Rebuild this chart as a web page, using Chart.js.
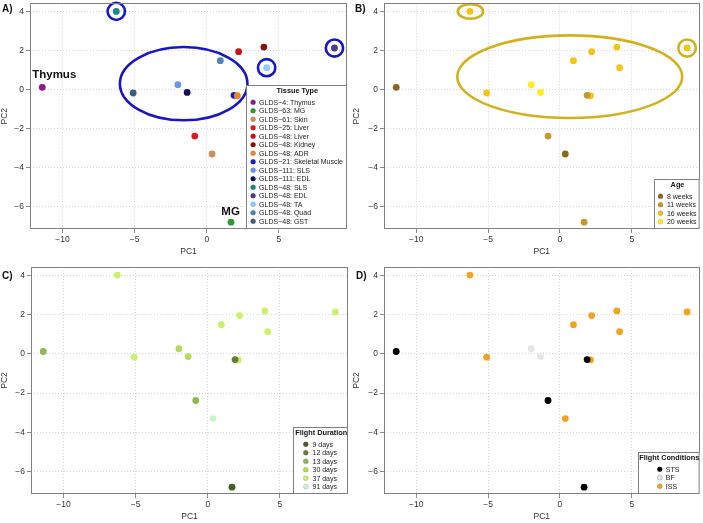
<!DOCTYPE html>
<html>
<head>
<meta charset="utf-8">
<script src="https://cdn.jsdelivr.net/npm/chart.js@4.4.0/dist/chart.umd.min.js"></script>
<style>
  html, body { margin: 0; padding: 0; background: #fff; }
  #wrap { position: relative; width: 703px; height: 523px; }
  .panel { position: absolute; }
</style>
</head>
<body>
<div id="wrap">
  <div class="panel" style="left:0;top:0;width:352px;height:262px"><canvas id="chartA"></canvas></div>
  <div class="panel" style="left:352px;top:0;width:351px;height:262px"><canvas id="chartB"></canvas></div>
  <div class="panel" style="left:0;top:262px;width:352px;height:261px"><canvas id="chartC"></canvas></div>
  <div class="panel" style="left:352px;top:262px;width:351px;height:261px"><canvas id="chartD"></canvas></div>
</div>
<script>
// PCA scores, one entry per tissue (same order as tissue legend)
const pc1 = [-11.4, 1.68, 0.37, -0.83, 2.21, 3.96, 2.12, 1.89, -2.0, -1.36, -6.27, 8.85, 4.15, 0.94, -5.1];
const pc2 = [0.12, -6.8, -3.3, -2.38, 1.95, 2.19, -0.31, -0.29, 0.26, -0.14, 4.02, 2.14, 1.13, 1.49, -0.17];

const tissueNames = ['GLDS\u22124: Thymus', 'GLDS\u221263: MG', 'GLDS\u221261: Skin', 'GLDS\u221225: Liver',
  'GLDS\u221248: Liver', 'GLDS\u221248: Kidney', 'GLDS\u221248: ADR', 'GLDS\u221221: Skeletal Muscle',
  'GLDS\u2212111: SLS', 'GLDS\u2212111: EDL', 'GLDS\u221248: SLS', 'GLDS\u221248: EDL',
  'GLDS\u221248: TA', 'GLDS\u221248: Quad', 'GLDS\u221248: GST'];
const tissueColors = ['#8e1a8c', '#2f9a30', '#cd915c', '#e4151c', '#c81018', '#8a0d0d', '#e88a2c',
  '#1a1ad2', '#6b97e2', '#0e0e5e', '#178787', '#4a3c88', '#8ecdf5', '#4f86b8', '#3c5f7f'];

const ageNames = ['8 weeks', '11 weeks', '16 weeks', '20 weeks'];
const ageColors = ['#8b671c', '#c8982c', '#f5c414', '#ffec1e'];
const ageGroup = [0, 1, 0, 1, 2, 2, 2, 1, 3, 3, 2, 2, 2, 2, 2];

const durationNames = ['9 days', '12 days', '13 days', '30 days', '37 days', '91 days'];
const durationColors = ['#4b5e27', '#667f35', '#8fb755', '#b4dc5c', '#cbf168', '#c8f4c8'];
const durationGroup = [2, 0, 5, 2, 4, 4, 4, 1, 3, 3, 4, 4, 4, 4, 4];

const conditionNames = ['STS', 'BF', 'ISS'];
const conditionColors = ['#000000', '#e6e6e6', '#f5a21e'];
const conditionGroup = [0, 0, 2, 0, 2, 2, 2, 0, 1, 1, 2, 2, 2, 2, 2];

const xTicks = [-10, -5, 0, 5];
const yTicks = [-6, -4, -2, 0, 2, 4];

// ellipses (centre and radii in PC units)
const ellA = { cx: [-1.6, -6.27, 4.15, 8.85], cy: [0.31, 4.02, 1.13, 2.14], rx: [4.42, 0.6, 0.6, 0.6], ry: [1.88, 0.44, 0.44, 0.44] };
const ellB = { cx: [0.68, -6.23, 8.85], cy: [0.67, 4.02, 2.14], rx: [7.83, 0.88, 0.61], ry: [2.12, 0.375, 0.44] };

const annoText = ['Thymus', 'MG'];
const annoX = [-10.57, 1.65];
const annoY = [0.6, -6.45];

Chart.defaults.font.family = '"Liberation Sans", Arial, sans-serif';
Chart.defaults.color = '#333';

function groupedDatasets(groups, names, colors) {
  return names.map((name, g) => ({
    label: name,
    data: pc1.map((x, i) => ({ x: x, y: pc2[i], g: groups[i] })).filter(p => p.g === g),
    backgroundColor: colors[g],
    borderWidth: 0,
    pointRadius: 3.4,
    pointHoverRadius: 3.4
  }));
}

const frame = {
  id: 'frame',
  afterDraw(chart, args, opts) {
    const { ctx, chartArea: a } = chart;
    ctx.save();
    ctx.strokeStyle = '#808080';
    ctx.lineWidth = 1;
    ctx.strokeRect(Math.round(a.left) + 0.5, Math.round(a.top) + 0.5, Math.round(a.right - a.left) - 1, Math.round(a.bottom - a.top) - 1);
    ctx.fillStyle = '#111';
    ctx.font = 'bold 10px "Liberation Sans", Arial, sans-serif';
    ctx.textAlign = 'left';
    ctx.textBaseline = 'alphabetic';
    ctx.fillText(opts.tag, opts.tagX, opts.tagY);
    ctx.restore();
  }
};

const ellipses = {
  id: 'ellipses',
  afterDatasetsDraw(chart, args, opts) {
    if (!opts.set) return;
    const { ctx, scales: { x, y } } = chart;
    const e = opts.set;
    ctx.save();
    ctx.strokeStyle = opts.color;
    ctx.lineWidth = 2.6;
    e.cx.forEach((cx, i) => {
      const px = x.getPixelForValue(cx), py = y.getPixelForValue(e.cy[i]);
      const rx = Math.abs(x.getPixelForValue(cx + e.rx[i]) - px);
      const ry = Math.abs(y.getPixelForValue(e.cy[i] + e.ry[i]) - py);
      ctx.beginPath();
      ctx.ellipse(px, py, rx, ry, 0, 0, Math.PI * 2);
      ctx.stroke();
    });
    if (opts.text) {
      ctx.fillStyle = '#111';
      ctx.font = 'bold 11.5px "Liberation Sans", Arial, sans-serif';
      ctx.textAlign = 'center';
      ctx.textBaseline = 'alphabetic';
      opts.text.forEach((t, i) => ctx.fillText(t, x.getPixelForValue(opts.tx[i]), y.getPixelForValue(opts.ty[i])));
    }
    ctx.restore();
  }
};

const boxLegend = {
  id: 'boxLegend',
  afterDraw(chart, args, opts) {
    const { ctx, chartArea: a } = chart;
    const n = opts.labels.length;
    const h = 17 + (n - 1) * 8.5 + 8;
    const w = opts.width;
    const x0 = Math.round(a.right - w) + 0.5, y0 = Math.round(a.bottom - h) + 0.5;
    ctx.save();
    ctx.fillStyle = '#fff';
    ctx.fillRect(x0, y0, w, h);
    ctx.strokeStyle = '#808080';
    ctx.lineWidth = 1;
    ctx.strokeRect(x0, y0, a.right - x0 - 0.5, a.bottom - y0 - 0.5);
    ctx.fillStyle = '#111';
    ctx.font = 'bold 7.3px "Liberation Sans", Arial, sans-serif';
    ctx.textAlign = 'center';
    ctx.textBaseline = 'middle';
    ctx.fillText(opts.title, x0 + w / 2, y0 + 5);
    ctx.font = '7px "Liberation Sans", Arial, sans-serif';
    ctx.textAlign = 'left';
    opts.labels.forEach((t, i) => {
      const cy = y0 + 16.7 + i * 8.5;
      ctx.beginPath();
      ctx.arc(x0 + opts.dotX, cy, 2.5, 0, Math.PI * 2);
      ctx.fillStyle = opts.colors[i];
      ctx.fill();
      ctx.strokeStyle = opts.colors[i] === '#e6e6e6' ? '#999' : 'rgba(0,0,0,0.25)';
      ctx.lineWidth = 0.5;
      ctx.stroke();
      ctx.fillStyle = '#222';
      ctx.fillText(t, x0 + opts.textX, cy + 0.5);
    });
    ctx.restore();
  }
};

function noPad(s) {
  s.paddingTop = 0; s.paddingBottom = 0; s.paddingLeft = 0; s.paddingRight = 0;
}

function makeChart(id, datasets, p) {
  return new Chart(document.getElementById(id), {
    type: 'scatter',
    data: { datasets: datasets },
    plugins: [frame, ellipses, boxLegend],
    options: {
      responsive: true,
      maintainAspectRatio: false,
      animation: false,
      events: [],
      layout: { padding: { top: p.top, right: p.right, left: 0, bottom: 0 } },
      plugins: {
        legend: { display: false },
        tooltip: { enabled: false },
        frame: { tag: p.tag, tagX: p.tagX, tagY: p.tagY },
        ellipses: p.ellipses || {},
        boxLegend: p.legend
      },
      scales: {
        x: {
          min: -12.25, max: 9.72,
          afterBuildTicks: s => { s.ticks = xTicks.map(v => ({ value: v })); },
          afterFit: s => { s.height = p.xh; noPad(s); },
          ticks: { font: { size: 8.5 }, color: '#333', padding: 2, maxRotation: 0,
            callback: v => String(v).replace('-', '\u2212') },
          grid: { color: '#d4d4d4', tickLength: 4, tickColor: '#888', tickBorderDash: [1, 0], tickWidth: 1 },
          border: { display: false, dash: [1, 2] },
          title: { display: true, text: 'PC1', font: { size: 8.5 }, color: '#333', padding: { top: 0, bottom: p.xtPad } }
        },
        y: {
          min: -7.15, max: 4.43,
          afterBuildTicks: s => { s.ticks = yTicks.map(v => ({ value: v })); },
          afterFit: s => { s.width = p.yw; noPad(s); },
          ticks: { font: { size: 8.5 }, color: '#333', padding: 2,
            callback: v => String(v).replace('-', '\u2212') },
          grid: { color: '#d4d4d4', tickLength: 4, tickColor: '#888', tickBorderDash: [1, 0], tickWidth: 1 },
          border: { display: false, dash: [1, 2] },
          title: { display: true, text: 'PC2', font: { size: 8.5 }, color: '#333', padding: { top: 0, bottom: 1 } }
        }
      }
    }
  });
}

makeChart('chartA', groupedDatasets(tissueNames.map((_, i) => i), tissueNames, tissueColors), {
  top: 2, right: 5, yw: 30, xh: 33, xtPad: 5, tag: 'A)', tagX: 2, tagY: 12,
  ellipses: { set: ellA, color: '#1717c9', text: annoText, tx: annoX, ty: annoY },
  legend: { title: 'Tissue Type', labels: tissueNames, colors: tissueColors, width: 101.5, dotX: 6.6, textX: 12.6 }
});

makeChart('chartB', groupedDatasets(ageGroup, ageNames, ageColors), {
  top: 1, right: 2, yw: 32, xh: 33, xtPad: 5, tag: 'B)', tagX: 3, tagY: 12,
  ellipses: { set: ellB, color: '#d4b11c' },
  legend: { title: 'Age', labels: ageNames, colors: ageColors, width: 46, dotX: 6, textX: 12.4 }
});

makeChart('chartC', groupedDatasets(durationGroup, durationNames, durationColors), {
  top: 5, right: 4, yw: 31, xh: 29, xtPad: 1, tag: 'C)', tagX: 2, tagY: 17,
  legend: { title: 'Flight Duration', labels: durationNames, colors: durationColors, width: 55.5, dotX: 12.3, textX: 19 }
});

makeChart('chartD', groupedDatasets(conditionGroup, conditionNames, conditionColors), {
  top: 5, right: 2, yw: 32, xh: 29, xtPad: 1, tag: 'D)', tagX: 4, tagY: 17,
  legend: { title: 'Flight Conditions', labels: conditionNames, colors: conditionColors, width: 61.5, dotX: 21.3, textX: 27.3 }
});
</script>
</body>
</html>
